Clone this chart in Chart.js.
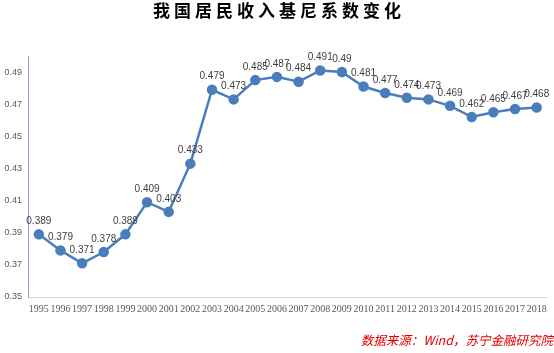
<!DOCTYPE html>
<html><head><meta charset="utf-8">
<script src="https://cdn.jsdelivr.net/npm/chart.js@4/dist/chart.umd.min.js"></script>
<style>html,body{margin:0;padding:0;background:#fff}#w{width:554px;height:353px;position:relative}</style>
</head><body><div id="w"><canvas id="c" width="554" height="353"></canvas></div>
<script>
const years = ['1995','1996','1997','1998','1999','2000','2001','2002','2003','2004','2005','2006','2007','2008','2009','2010','2011','2012','2013','2014','2015','2016','2017','2018'];
const gini = [0.389,0.379,0.371,0.378,0.389,0.409,0.403,0.433,0.479,0.473,0.485,0.487,0.484,0.491,0.49,0.481,0.477,0.474,0.473,0.469,0.462,0.465,0.467,0.468];
const yTicks = [0.35,0.37,0.39,0.41,0.43,0.45,0.47,0.49];
const titleText = '我国居民收入基尼系数变化';
const sourceText = '数据来源：Wind，苏宁金融研究院';

const deco = {
  id:'deco',
  afterDatasetsDraw(chart){
    const ctx = chart.ctx;
    const meta = chart.getDatasetMeta(0);
    ctx.save();
    ctx.font = '10px "Liberation Sans", Arial, sans-serif';
    ctx.fillStyle = '#404040';
    ctx.textAlign = 'center';
    ctx.textBaseline = 'middle';
    meta.data.forEach((p,i)=>{
      ctx.fillText(String(gini[i]), p.x, p.y - 13);
    });
    ctx.restore();
  },
  afterDraw(chart){
    const ctx = chart.ctx;
    ctx.save();
    ctx.font = 'bold 17px "Noto Sans CJK SC", sans-serif';
    ctx.fillStyle = '#000';
    ctx.textAlign = 'center';
    ctx.textBaseline = 'middle';
    try { ctx.letterSpacing = '4px'; } catch(e) {}
    ctx.fillText(titleText, 279, 11);
    try { ctx.letterSpacing = '0px'; } catch(e) {}
    ctx.font = 'italic 12.5px "Noto Sans CJK SC", sans-serif';
    ctx.fillStyle = '#e00000';
    ctx.textAlign = 'right';
    ctx.fillText(sourceText, 553, 340);
    ctx.restore();
  }
};

new Chart(document.getElementById('c'), {
  type:'line',
  data:{labels:years, datasets:[{data:gini, borderColor:'#4a7ebb', backgroundColor:'#4a7ebb', borderWidth:2.5, pointRadius:4, pointHoverRadius:4, tension:0}]},
  options:{
    responsive:false, animation:false,
    layout:{padding:{top:56,bottom:36,left:0,right:3}},
    plugins:{legend:{display:false}, tooltip:{enabled:false}},
    scales:{
      x:{
        offset:true,
        grid:{display:false, drawTicks:false},
        border:{color:'#d9d9d9', width:1},
        ticks:{font:{family:'"Liberation Serif", serif', size:10}, color:'#595959', maxRotation:0, autoSkip:false, padding:6},
        afterFit(s){ s.height = 20; }
      },
      y:{
        min:0.35, max:0.5,
        grid:{display:false, drawTicks:true, tickLength:4, tickColor:'#8aa6d2'},
        border:{color:'#8aa6d2', width:1},
        afterBuildTicks(s){ s.ticks = yTicks.map(v=>({value:v})); },
        ticks:{font:{family:'"Liberation Sans", Arial, sans-serif', size:9}, color:'#595959', padding:2, callback:(v)=>v.toFixed(2)},
        afterFit(s){ s.width = 28; }
      }
    }
  },
  plugins:[deco]
});
</script></body></html>
